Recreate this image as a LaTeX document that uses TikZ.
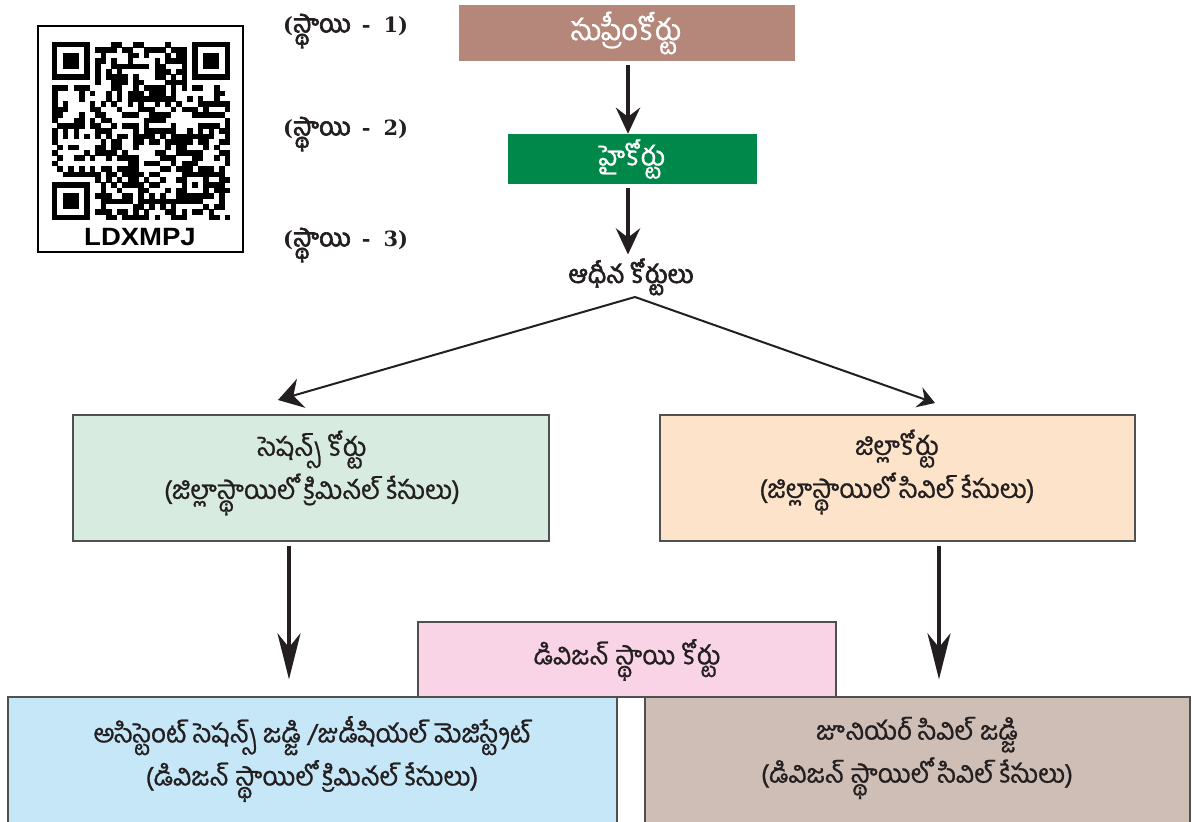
\documentclass[tikz,border=0pt]{standalone}
\usepackage{fontspec}
\newfontfamily\te[Script=Telugu,FakeBold=0.9]{Hind Guntur}
\newfontfamily\teb[Script=Telugu,FakeBold=2.6]{Hind Guntur}
\newfontfamily\qrfont{Liberation Sans}
\newfontfamily\stagefont{DejaVu Serif}
\usetikzlibrary{arrows.meta}
\definecolor{supc}{HTML}{B5877A}
\definecolor{highc}{HTML}{00874A}
\definecolor{sesc}{HTML}{D8EBE1}
\definecolor{disc}{HTML}{FDE3C9}
\definecolor{divc}{HTML}{F8D4E6}
\definecolor{bluec}{HTML}{C6E7F8}
\definecolor{brownc}{HTML}{CFBEB6}
\definecolor{edge}{HTML}{505050}
\definecolor{ink}{HTML}{231F20}
\tikzset{
  box/.style={rectangle, draw=edge, line width=1.3pt, inner sep=0pt},
  topbox/.style={rectangle, inner sep=0pt},
  txt/.style={text=ink, align=center, inner sep=0pt, font=\te\fontsize{26}{43}\selectfont},
  stage/.style={text=ink, anchor=west, inner sep=0pt},
  bigarrow/.style={line width=4.2pt, draw=ink, -{Stealth[length=26pt,width=24pt,inset=9pt]}},
  longarrow/.style={line width=4.2pt, draw=ink, -{Stealth[length=46pt,width=23pt,inset=14pt]}},
  leftarrow/.style={line width=2pt, draw=ink, -{Stealth[length=24pt,width=30pt,inset=8pt]}},
  rightarrow/.style={line width=2pt, draw=ink, -{Stealth[length=17pt,width=21pt,inset=6pt]}},
}
\newcommand\stagelabel[1]{{\stagefont\bfseries\fontsize{21}{21}\selectfont(}{\teb\fontsize{25}{25}\selectfont స్థాయి}{\stagefont\bfseries\fontsize{21}{21}\selectfont\hspace{11pt}-\hspace{13pt}#1)}}
\begin{document}
\begin{tikzpicture}[x=1pt,y=-1pt]
\useasboundingbox (0,0) rectangle (1192,822);
\clip (0,0) rectangle (1192,822);

% QR code
\node[rectangle, draw=black, line width=2pt, minimum width=205pt, minimum height=226pt, inner sep=0pt] (qr) at (140,139) {};
\pgfmathsetseed{4242}
\foreach \i in {0,...,32}{
  \foreach \j in {0,...,32}{
    \pgfmathsetmacro\r{rnd}
    \ifdim\r pt<0.52pt
      \fill[black] (52+\i*5.4,42+\j*5.4) rectangle ++(5.5,5.5);
    \fi
  }
}
\foreach \ox/\oy in {0/0,25/0,0/25}{
  \fill[white] (52+\ox*5.4,42+\oy*5.4) rectangle ++(8*5.4,8*5.4);
}
\foreach \ox/\oy in {0/0,26/0,0/26}{
  \fill[black] (52+\ox*5.4,42+\oy*5.4) rectangle ++(7*5.4,7*5.4);
  \fill[white] (52+\ox*5.4+5.4,42+\oy*5.4+5.4) rectangle ++(5*5.4,5*5.4);
  \fill[black] (52+\ox*5.4+10.8,42+\oy*5.4+10.8) rectangle ++(3*5.4,3*5.4);
}
\fill[black] (52+24*5.4,42+24*5.4) rectangle ++(5*5.4,5*5.4);
\fill[white] (52+25*5.4,42+25*5.4) rectangle ++(3*5.4,3*5.4);
\fill[black] (52+26*5.4,42+26*5.4) rectangle ++(5.4,5.4);
\node[inner sep=0pt, font=\qrfont\bfseries\fontsize{25}{25}\selectfont, xscale=1.1] (qrtxt) at (140,237) {LDXMPJ};

% stage labels
\node[stage] (s1) at (283,31) {\stagelabel{1}};
\node[stage] (s2) at (283,134) {\stagelabel{2}};
\node[stage] (s3) at (283,245) {\stagelabel{3}};

% top boxes
\node[topbox, fill=supc, minimum width=336pt, minimum height=56pt] (sup) at (627,33) {};
\node[text=white, font=\te\fontsize{29}{29}\selectfont, inner sep=0pt] (suptxt) at (626,33) {సుప్రీంకోర్టు};
\node[topbox, fill=highc, minimum width=249pt, minimum height=50pt] (high) at (632.5,159) {};
\node[text=white, font=\te\fontsize{27}{27}\selectfont, inner sep=0pt] (hightxt) at (632,159) {హైకోర్టు};
\node[text=ink, font=\teb\fontsize{25}{25}\selectfont, inner sep=0pt] (adh) at (631,277) {ఆధీన కోర్టులు};
\coordinate (apex) at (635,297);
\coordinate (ltip) at (278,400);
\coordinate (rtip) at (935,403);

% district level
\node[box, fill=sesc, minimum width=476pt, minimum height=126pt] (ses) at (311,478) {};
\node[txt] (sestxt) at (312,473) {సెషన్స్ కోర్టు\\(జిల్లాస్థాయిలో క్రిమినల్ కేసులు)};
\node[box, fill=disc, minimum width=475pt, minimum height=126pt] (dis) at (897.5,478) {};
\node[txt] (distxt) at (897,472) {జిల్లాకోర్టు\\(జిల్లాస్థాయిలో సివిల్ కేసులు)};

% division level
\node[box, fill=divc, minimum width=418pt, minimum height=75pt] (div) at (627,659.5) {};
\node[txt] (divtxt) at (627,660) {డివిజన్ స్థాయి కోర్టు};
\node[box, fill=bluec, minimum width=609pt, minimum height=140pt] (asj) at (312.5,767) {};
\node[txt] (asjtxt) at (312,759) {అసిస్టెంట్ సెషన్స్ జడ్జి /జుడీషియల్ మెజిస్ట్రేట్\\(డివిజన్ స్థాయిలో క్రిమినల్ కేసులు)};
\node[box, fill=brownc, minimum width=545pt, minimum height=140pt] (jcj) at (917.5,767) {};
\node[txt] (jcjtxt) at (917,758) {జూనియర్ సివిల్ జడ్జి\\(డివిజన్ స్థాయిలో సివిల్ కేసులు)};

% arrows
\draw[bigarrow, shorten <=4pt] (sup.south -| 628,0) -- (high.north -| 628,0);
\draw[bigarrow, shorten <=4pt, shorten >=4pt] (high.south -| 628,0) -- (adh.north -| 628,0);
\draw[leftarrow] (apex) -- (ltip);
\draw[rightarrow] (apex) -- (rtip);
\draw[longarrow, shorten <=4pt, shorten >=17pt] (ses.south -| 289,0) -- (asj.north -| 289,0);
\draw[longarrow, shorten <=4pt, shorten >=17pt] (dis.south -| 939,0) -- (jcj.north -| 939,0);
\end{tikzpicture}
\end{document}
